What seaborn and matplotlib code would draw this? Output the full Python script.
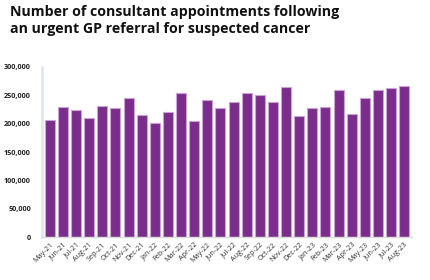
import matplotlib
matplotlib.use("Agg")
import matplotlib.pyplot as plt
import seaborn as sns
import pandas as pd

months = ["May-21", "Jun-21", "Jul-21", "Aug-21", "Sep-21", "Oct-21", "Nov-21",
          "Dec-21", "Jan-22", "Feb-22", "Mar-22", "Apr-22", "May-22", "Jun-22",
          "Jul-22", "Aug-22", "Sep-22", "Oct-22", "Nov-22", "Dec-22", "Jan-23",
          "Feb-23", "Mar-23", "Apr-23", "May-23", "Jun-23", "Jul-23", "Aug-23"]
appointments = [206000, 230000, 223500, 210500, 231000, 227000, 246000,
                215000, 202000, 220000, 253500, 204500, 242000, 228000,
                237500, 254500, 251000, 239000, 264000, 213000, 227500,
                229000, 260000, 217500, 244500, 260000, 263500, 267000]
yticks = [0, 50000, 100000, 150000, 200000, 250000, 300000]
ytick_labels = ["0", "50,000", "100,000", "150,000", "200,000", "250,000", "300,000"]
title = "Number of consultant appointments following\nan urgent GP referral for suspected cancer"

df = pd.DataFrame({"month": months, "value": appointments})

sns.set_style("white")
plt.rcParams["font.family"] = ["Open Sans", "DejaVu Sans"]

fig = plt.figure(figsize=(4.3, 2.8), dpi=100)
ax = fig.add_axes([42 / 430, 1 - 237 / 280, (412 - 42) / 430, (237 - 67) / 280])

sns.barplot(data=df, x="month", y="value", color="#7B2D8B", width=0.76,
            edgecolor="#C9A3D3", linewidth=0.8, saturation=1, ax=ax)

ax.set_ylim(0, 300000)
ax.set_xlim(-0.6, len(months) - 0.4)
ax.set_yticks(yticks)
ax.set_yticklabels(ytick_labels, fontsize=5.2, fontweight="bold", color="#222222")
ax.set_xticks(range(len(months)))
ax.set_xticklabels(months, rotation=45, ha="right", rotation_mode="anchor",
                   fontsize=5.2, color="#333333")
ax.set_xlabel("")
ax.set_ylabel("")

for s in ["top", "right"]:
    ax.spines[s].set_visible(False)
ax.spines["left"].set_color("#DCE5EE")
ax.spines["left"].set_linewidth(1.8)
ax.spines["bottom"].set_color("#D9D9D9")
ax.spines["bottom"].set_linewidth(1.0)
ax.tick_params(axis="y", length=2, width=0.6, color="#DCE5EE", pad=6)
ax.tick_params(axis="x", length=0, pad=3)

fig.text(10 / 430, 1 - 5 / 280, title, ha="left", va="top", fontsize=10.2,
         fontweight="bold", color="#111111", linespacing=1.25)

fig.savefig("out.png", dpi=100, facecolor="white")
